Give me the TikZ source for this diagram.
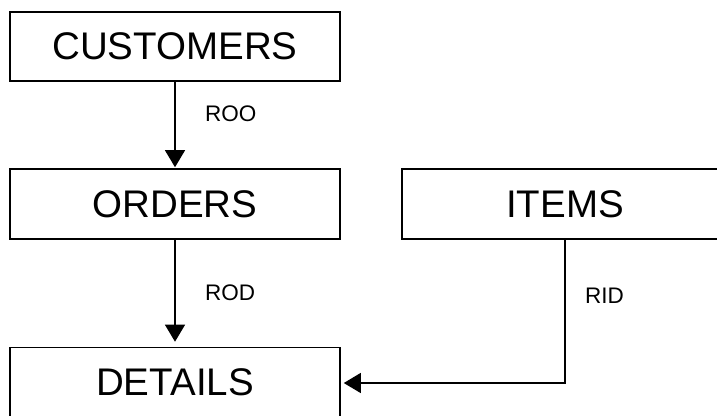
\documentclass[tikz,border=0pt]{standalone}
\usepackage{fontspec}
\setmainfont{Liberation Sans}
\usetikzlibrary{arrows.meta}
\begin{document}
\begin{tikzpicture}[x=1pt,y=-1pt,
  table/.style={draw, line width=1.6pt, rectangle, inner sep=0pt,
    font=\fontsize{38.5}{40}\selectfont},
  link/.style={line width=1.3pt, -{Triangle[length=17pt,width=20pt]}},
  rel/.style={font=\fontsize{22.5}{25}\selectfont, inner sep=0pt, anchor=west}]
  \useasboundingbox (0,0) rectangle (717,415);
  \clip (0,0) rectangle (717,415);
  % tables
  \node[table, minimum width=330pt, minimum height=69pt] (cust) at (175,46.5) {CUSTOMERS};
  \node[table, minimum width=330pt, minimum height=70pt] (ord) at (175,204) {ORDERS};
  \node[table, minimum width=326pt, minimum height=70pt] (items) at (565,204) {ITEMS};
  \node[table, minimum width=330pt, minimum height=70pt] (det) at (175,382.5) {DETAILS};
  % relationships
  \draw[link, shorten >=1pt] (cust.south) -- (ord.north);
  \draw[link, shorten >=5pt] (ord.south) -- (det.north);
  \coordinate (bend) at (items.south |- 0,383);
  \draw[link, shorten >=3pt] (items.south) -- (bend) -- (det.east |- bend);
  % relationship labels
  \node[rel] (roo) at (205,113.5) {ROO};
  \node[rel] (rod) at (205,292.5) {ROD};
  \node[rel] (rid) at (585,296) {RID};
\end{tikzpicture}
\end{document}
